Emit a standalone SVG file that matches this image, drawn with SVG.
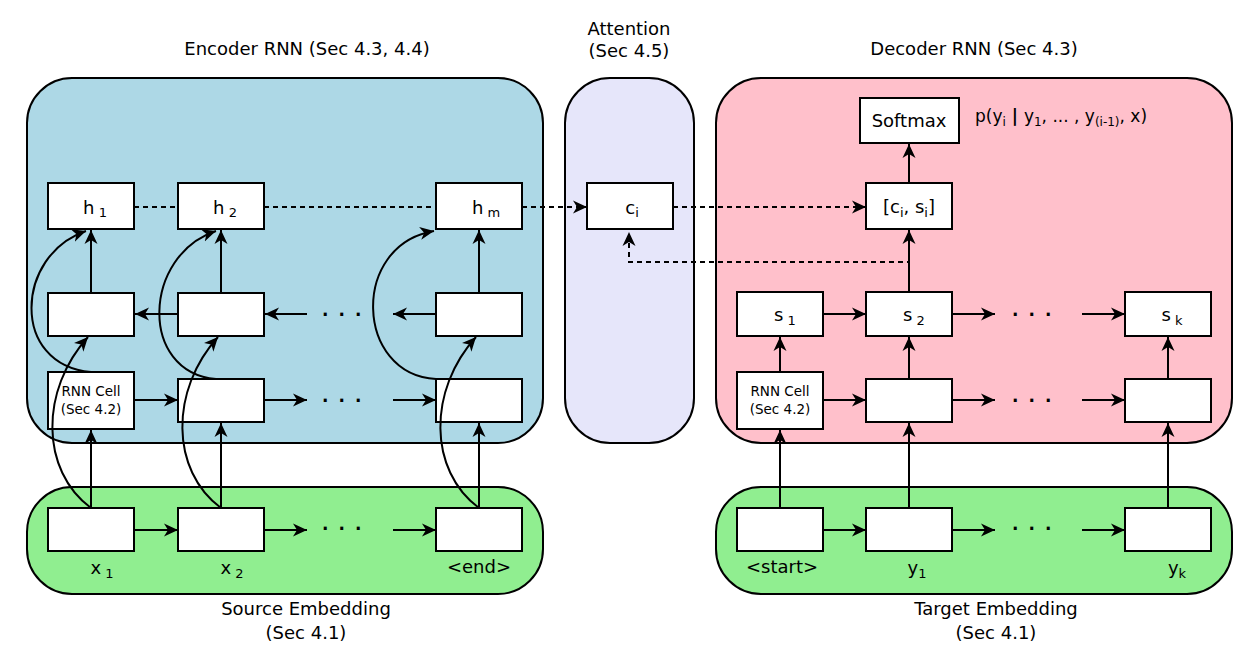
<svg xmlns="http://www.w3.org/2000/svg" width="1256" height="666" viewBox="0 0 1256 666">
<defs>
<marker id="ah" viewBox="-14 -7 15 14" refX="0" refY="0" markerWidth="15" markerHeight="14" markerUnits="userSpaceOnUse" orient="auto">
<path d="M0,0 L-14,-6.5 L-10,0 L-14,6.5 Z" fill="#000"/>
</marker>
<style>
text{font-family:"DejaVu Sans","Liberation Sans",sans-serif;fill:#000}
.t{font-size:18px}
.c{text-anchor:middle}
.sm{font-size:13.5px}
.b{fill:#fff;stroke:#000;stroke-width:2}
.cont{stroke:#000;stroke-width:2}
.ln{fill:none;stroke:#000;stroke-width:2}
.ar{fill:none;stroke:#000;stroke-width:2;marker-end:url(#ah)}
.da{stroke-dasharray:5,4}
.dots{font-size:17px;font-weight:bold;letter-spacing:10px}
</style>
</defs>
<rect width="1256" height="666" fill="#fff"/>
<g id="containers">
<g id="encoder"><rect class="cont" x="27" y="78" width="516" height="365" rx="45" fill="#add8e6"/><text class="t c" x="307" y="55">Encoder RNN (Sec 4.3, 4.4)</text></g>
<g id="attention"><rect class="cont" x="565" y="78" width="129" height="365" rx="45" fill="#e6e6fa"/><text class="t c" x="629" y="35">Attention</text><text class="t c" x="629" y="57">(Sec 4.5)</text></g>
<g id="decoder"><rect class="cont" x="716" y="78" width="516" height="365" rx="45" fill="#ffc0cb"/><text class="t c" x="974" y="55">Decoder RNN (Sec 4.3)</text></g>
<g id="source-embedding"><rect class="cont" x="27" y="487" width="516" height="107" rx="45" fill="#90ee90"/><text class="t c" x="306" y="615">Source Embedding</text><text class="t c" x="306" y="639">(Sec 4.1)</text></g>
<g id="target-embedding"><rect class="cont" x="716" y="487" width="516" height="107" rx="45" fill="#90ee90"/><text class="t c" x="996" y="615">Target Embedding</text><text class="t c" x="996" y="639">(Sec 4.1)</text></g>
</g>
<g id="dots">
<text class="dots" x="322" y="316">...</text>
<text class="dots" x="322" y="402">...</text>
<text class="dots" x="322" y="530">...</text>
<text class="dots" x="1012" y="316">...</text>
<text class="dots" x="1012" y="402">...</text>
<text class="dots" x="1012" y="530">...</text>
</g>
<g id="h1"><rect class="b" x="48" y="183" width="86" height="46"/><text class="t c" x="95" y="214">h<tspan font-size="13" dy="3"> 1</tspan></text></g>
<g id="h2"><rect class="b" x="178" y="183" width="86" height="46"/><text class="t c" x="225" y="214">h<tspan font-size="13" dy="3"> 2</tspan></text></g>
<g id="hm"><rect class="b" x="436" y="183" width="86" height="46"/><text class="t c" x="486" y="214">h<tspan font-size="13" dy="3"> m</tspan></text></g>
<g id="enc-b1"><rect class="b" x="48" y="293" width="86" height="43"/></g>
<g id="enc-b2"><rect class="b" x="178" y="293" width="86" height="43"/></g>
<g id="enc-bm"><rect class="b" x="436" y="293" width="86" height="43"/></g>
<g id="enc-rnn1"><rect class="b" x="48" y="372" width="86" height="57"/><text class="sm c" x="91" y="396">RNN Cell</text><text class="sm c" x="91" y="414">(Sec 4.2)</text></g>
<g id="enc-rnn2"><rect class="b" x="178" y="379" width="86" height="43"/></g>
<g id="enc-rnnm"><rect class="b" x="436" y="379" width="86" height="43"/></g>
<g id="x1"><rect class="b" x="48" y="508" width="86" height="43"/><text class="t c" x="102" y="574">x<tspan font-size="13" dy="4"> 1</tspan></text></g>
<g id="x2"><rect class="b" x="178" y="508" width="86" height="43"/><text class="t c" x="232" y="574">x<tspan font-size="13" dy="4"> 2</tspan></text></g>
<g id="xend"><rect class="b" x="436" y="508" width="86" height="43"/><text class="t c" x="479" y="573">&lt;end&gt;</text></g>
<g id="ci"><rect class="b" x="587" y="183" width="86" height="46"/><text class="t c" x="632" y="214">c<tspan font-size="13" dy="3">i</tspan></text></g>
<g id="softmax"><rect class="b" x="860" y="98" width="99" height="45"/><text class="t c" x="909" y="127">Softmax</text><text x="975" y="122" font-size="17">p(y<tspan font-size="12" dy="4">i</tspan><tspan dy="-4" font-weight="bold"> | </tspan><tspan>y</tspan><tspan font-size="12" dy="4">1</tspan><tspan dy="-4">, ... , y</tspan><tspan font-size="12" dy="4">(i-1)</tspan><tspan dy="-4">, x)</tspan></text></g>
<g id="concat"><rect class="b" x="866" y="183" width="86" height="46"/><text class="t c" x="909" y="213">[c<tspan font-size="13" dy="4">i</tspan><tspan dy="-4">, s</tspan><tspan font-size="13" dy="4">i</tspan><tspan dy="-4">]</tspan></text></g>
<g id="s1"><rect class="b" x="737" y="292" width="86" height="44"/><text class="t c" x="785" y="321">s<tspan font-size="13" dy="4"> 1</tspan></text></g>
<g id="s2"><rect class="b" x="866" y="292" width="86" height="44"/><text class="t c" x="914" y="321">s<tspan font-size="13" dy="4"> 2</tspan></text></g>
<g id="sk"><rect class="b" x="1125" y="292" width="86" height="44"/><text class="t c" x="1172" y="321">s<tspan font-size="13" dy="4"> k</tspan></text></g>
<g id="dec-rnn1"><rect class="b" x="737" y="372" width="86" height="57"/><text class="sm c" x="780" y="396">RNN Cell</text><text class="sm c" x="780" y="414">(Sec 4.2)</text></g>
<g id="dec-rnn2"><rect class="b" x="866" y="379" width="86" height="43"/></g>
<g id="dec-rnnk"><rect class="b" x="1125" y="379" width="86" height="43"/></g>
<g id="start"><rect class="b" x="737" y="508" width="86" height="43"/><text class="t c" x="782" y="573">&lt;start&gt;</text></g>
<g id="y1"><rect class="b" x="866" y="508" width="86" height="43"/><text class="t c" x="917" y="574">y<tspan font-size="13" dy="4">1</tspan></text></g>
<g id="yk"><rect class="b" x="1125" y="508" width="86" height="43"/><text class="t c" x="1177" y="574">y<tspan font-size="13" dy="4">k</tspan></text></g>
<g id="connectors">
<line class="ln da" x1="134" y1="207" x2="178" y2="207"/>
<line class="ln da" x1="264" y1="207" x2="436" y2="207"/>
<line class="ar da" x1="522" y1="207" x2="587" y2="207"/>
<line class="ar da" x1="673" y1="207" x2="866" y2="207"/>
<path class="ar da" d="M909,292 V262 H629 V232"/>
<line class="ar" x1="178" y1="314" x2="135" y2="314"/>
<line class="ar" x1="307" y1="314" x2="265" y2="314"/>
<line class="ar" x1="436" y1="314" x2="393" y2="314"/>
<line class="ar" x1="134" y1="400" x2="178" y2="400"/>
<line class="ar" x1="264" y1="400" x2="307" y2="400"/>
<line class="ar" x1="393" y1="400" x2="436" y2="400"/>
<line class="ar" x1="134" y1="530" x2="178" y2="530"/>
<line class="ar" x1="264" y1="530" x2="307" y2="530"/>
<line class="ar" x1="393" y1="530" x2="436" y2="530"/>
<line class="ar" x1="91" y1="508" x2="91" y2="430"/>
<line class="ar" x1="221" y1="508" x2="221" y2="423"/>
<line class="ar" x1="479" y1="508" x2="479" y2="423"/>
<line class="ar" x1="91" y1="293" x2="91" y2="230"/>
<line class="ar" x1="221" y1="293" x2="221" y2="230"/>
<line class="ar" x1="479" y1="293" x2="479" y2="230"/>
<path class="ar" d="M91,508 C40,470 40,390 88,337"/>
<path class="ar" d="M221,508 C170,470 170,390 218,337"/>
<path class="ar" d="M479,508 C428,470 428,390 476,337"/>
<path class="ar" d="M91,372 C10,365 15,255 86,231"/>
<path class="ar" d="M216,379 C138,372 143,255 216,231"/>
<path class="ar" d="M436,379 C355,375 350,245 434,231"/>
<line class="ar" x1="823" y1="314" x2="866" y2="314"/>
<line class="ar" x1="952" y1="314" x2="995" y2="314"/>
<line class="ar" x1="1082" y1="314" x2="1125" y2="314"/>
<line class="ar" x1="823" y1="400" x2="866" y2="400"/>
<line class="ar" x1="952" y1="400" x2="995" y2="400"/>
<line class="ar" x1="1082" y1="400" x2="1125" y2="400"/>
<line class="ar" x1="823" y1="530" x2="866" y2="530"/>
<line class="ar" x1="952" y1="530" x2="995" y2="530"/>
<line class="ar" x1="1082" y1="530" x2="1125" y2="530"/>
<line class="ar" x1="780" y1="508" x2="780" y2="430"/>
<line class="ar" x1="909" y1="508" x2="909" y2="423"/>
<line class="ar" x1="1168" y1="508" x2="1168" y2="423"/>
<line class="ar" x1="780" y1="372" x2="780" y2="337"/>
<line class="ar" x1="909" y1="379" x2="909" y2="337"/>
<line class="ar" x1="1168" y1="379" x2="1168" y2="337"/>
<line class="ar" x1="909" y1="292" x2="909" y2="230"/>
<line class="ar" x1="909" y1="183" x2="909" y2="144"/>
</g>
</svg>
